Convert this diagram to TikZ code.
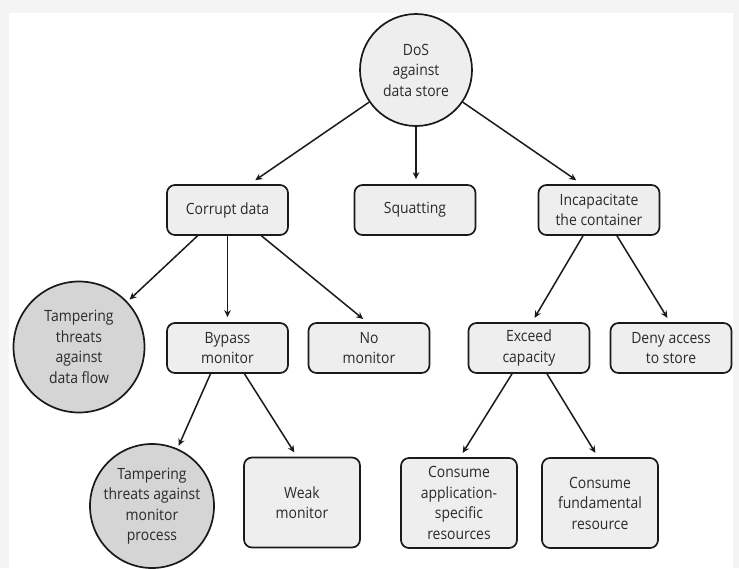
\documentclass[tikz,border=0pt]{standalone}
\usepackage{fontspec}
\setmainfont{Open Sans}[FakeStretch=0.9]
\usetikzlibrary{arrows.meta,calc}
\definecolor{outerbg}{HTML}{F4F4F4}
\definecolor{boxgray}{HTML}{EEEEEE}
\definecolor{circgray}{HTML}{D5D5D5}
\definecolor{edgec}{HTML}{1A1A1A}
\definecolor{txt}{HTML}{2A2A2A}
\begin{document}
\begin{tikzpicture}[x=1pt,y=-1pt,
  lbl/.style={text=txt, align=center, font=\fontsize{15.5}{20.5}\selectfont, inner sep=0pt},
  box/.style={lbl, draw=edgec, line width=1.7pt, rounded corners=8pt, fill=boxgray,
              minimum width=121pt, minimum height=50pt},
  tallbox/.style={box, minimum width=116pt, minimum height=90pt},
  circ/.style={lbl, circle, draw=edgec, line width=1.7pt},
  arr/.style={draw=edgec, line width=1.5pt, -{Stealth[length=7pt,width=6.5pt]}}
]
\useasboundingbox (0,0) rectangle (739,568);
\fill[outerbg] (0,0) rectangle (739,568);
\fill[white] (9,13) rectangle (733,568);

% root
\node[circ, fill=boxgray, minimum size=112pt] (root) at (416,70) {DoS\\against\\data store};

% row 2
\node[box] (corrupt) at (227.5,210) {Corrupt data};
\node[box] (squat) at (415,210) {Squatting};
\node[box] (incap) at (599,210) {Incapacitate\\the container};

% row 3
\node[circ, fill=circgray, minimum size=131pt] (tamp1) at (79,347) {Tampering\\threats\\against\\data flow};
\node[box] (bypass) at (227.5,348) {Bypass\\monitor};
\node[box] (nomon) at (369,348) {No\\monitor};
\node[box] (exceed) at (529,348) {Exceed\\capacity};
\node[box] (deny) at (671,348) {Deny access\\to store};

% row 4
\node[circ, fill=circgray, minimum size=124pt] (tamp2) at (152,506) {Tampering\\threats against\\monitor\\process};
\node[tallbox] (weak) at (302,502.5) {Weak\\monitor};
\node[tallbox] (capp) at (459,503) {Consume\\application-\\specific\\resources};
\node[tallbox] (cfund) at (600,503) {Consume\\fundamental\\resource};

% connectors from root
\draw[arr, shorten >=7pt] (root) -- ($(corrupt.north)+(22,0)$);
\draw[arr, shorten >=5pt] (root.south) -- (root.south |- squat.north);
\draw[arr, shorten >=7pt] (root) -- ($(incap.north)+(-17,0)$);

% from corrupt data
\draw[arr, shorten >=3pt] ($(corrupt.south)+(-30,0)$) -- (tamp1);
\draw[arr, shorten >=5pt] (corrupt.south) -- (bypass.north);
\draw[arr, shorten >=5pt] ($(corrupt.south)+(34,0)$) -- ($(nomon.north)+(-2,0)$);

% from incapacitate
\draw[arr, shorten >=5pt] ($(incap.south)+(-16,0)$) -- ($(exceed.north)+(3,0)$);
\draw[arr, shorten >=5pt] ($(incap.south)+(18,0)$) -- ($(deny.north)+(-1,0)$);

% from bypass
\draw[arr, shorten >=3pt] ($(bypass.south)+(-17,0)$) -- (tamp2);
\draw[arr, shorten >=5pt] ($(bypass.south)+(17,0)$) -- ($(weak.north)+(-5,0)$);

% from exceed
\draw[arr, shorten >=5pt] ($(exceed.south)+(-17,0)$) -- ($(capp.north)+(1,0)$);
\draw[arr, shorten >=5pt] ($(exceed.south)+(18,0)$) -- ($(cfund.north)+(-2,0)$);
\end{tikzpicture}
\end{document}
